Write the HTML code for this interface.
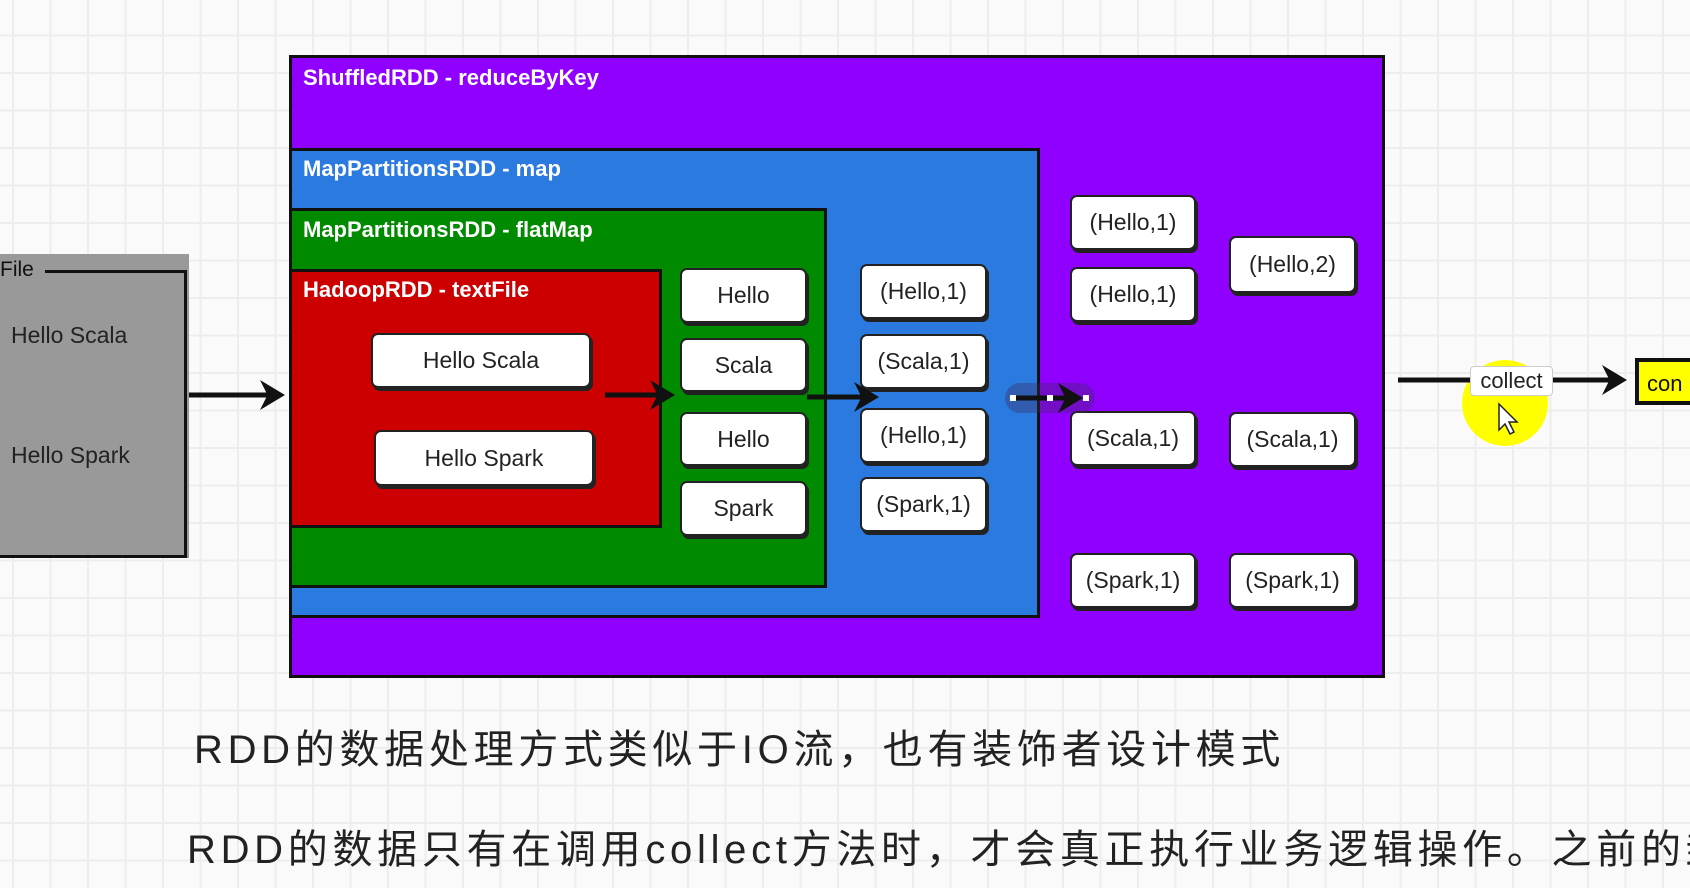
<!DOCTYPE html>
<html><head><meta charset="utf-8"><style>
body{margin:0;width:1690px;height:888px;overflow:hidden;background:#fafafa;
background-image:linear-gradient(#ededed 2px,transparent 2px),linear-gradient(90deg,#ededed 2px,transparent 2px);
background-size:37.5px 37.5px;background-position:12px -3px;font-family:"Liberation Sans",sans-serif;position:relative}
.a{position:absolute;box-sizing:border-box}
.c{border:3px solid #111}
.t{color:#fff;font-weight:bold;font-size:22px;position:absolute;white-space:nowrap}
.n{position:absolute;box-sizing:border-box;background:#fff;border:2px solid #222;border-radius:7px;box-shadow:2px 3px 0 #222;display:flex;align-items:center;justify-content:center;font-size:23px;color:#222}
.cn{font-family:"Liberation Sans","Noto Sans CJK SC",sans-serif;font-size:40px;letter-spacing:4.7px;color:#222;position:absolute;white-space:nowrap}
</style></head><body>
<!-- file -->
<div class="a" style="left:0;top:254px;width:189px;height:304px;background:#999"></div>
<div class="a" style="left:-4px;top:270px;width:191px;height:288px;border:3px solid #111;border-left:none"></div>
<div class="a" style="left:0;top:260px;width:45px;height:20px;background:#999;font-size:21px;line-height:20px;color:#111">File</div>
<div class="a" style="left:11px;top:322px;font-size:23px;color:#222">Hello Scala</div>
<div class="a" style="left:11px;top:442px;font-size:23px;color:#222">Hello Spark</div>
<!-- boxes -->
<div class="a c" style="left:289px;top:55px;width:1096px;height:623px;background:#9000ff"></div>
<div class="t" style="left:303px;top:65px">ShuffledRDD - reduceByKey</div>
<div class="a c" style="left:289px;top:148px;width:751px;height:470px;background:#2b7ae0"></div>
<div class="t" style="left:303px;top:156px">MapPartitionsRDD - map</div>
<div class="a c" style="left:289px;top:208px;width:538px;height:380px;background:#008a00"></div>
<div class="t" style="left:303px;top:217px">MapPartitionsRDD - flatMap</div>
<div class="a c" style="left:289px;top:269px;width:373px;height:259px;background:#cc0000"></div>
<div class="t" style="left:303px;top:277px">HadoopRDD - textFile</div>
<div class="n" style="left:371px;top:333px;width:220px;height:55px">Hello Scala</div>
<div class="n" style="left:374px;top:430px;width:220px;height:56px">Hello Spark</div>
<div class="n" style="left:680px;top:268px;width:127px;height:55px">Hello</div>
<div class="n" style="left:680px;top:338px;width:127px;height:54px">Scala</div>
<div class="n" style="left:680px;top:412px;width:127px;height:54px">Hello</div>
<div class="n" style="left:680px;top:481px;width:127px;height:55px">Spark</div>
<div class="n" style="left:860px;top:264px;width:127px;height:55px">(Hello,1)</div>
<div class="n" style="left:860px;top:334px;width:127px;height:55px">(Scala,1)</div>
<div class="n" style="left:860px;top:408px;width:127px;height:55px">(Hello,1)</div>
<div class="n" style="left:860px;top:477px;width:127px;height:55px">(Spark,1)</div>
<div class="n" style="left:1070px;top:195px;width:126px;height:55px">(Hello,1)</div>
<div class="n" style="left:1070px;top:267px;width:126px;height:55px">(Hello,1)</div>
<div class="n" style="left:1070px;top:411px;width:126px;height:55px">(Scala,1)</div>
<div class="n" style="left:1070px;top:553px;width:126px;height:55px">(Spark,1)</div>
<div class="n" style="left:1229px;top:236px;width:127px;height:57px">(Hello,2)</div>
<div class="n" style="left:1229px;top:412px;width:127px;height:55px">(Scala,1)</div>
<div class="n" style="left:1229px;top:553px;width:127px;height:55px">(Spark,1)</div>
<div class="a" style="left:1005px;top:383px;width:90px;height:30px;border-radius:15px;background:rgba(60,40,90,.35)"></div>
<div class="a" style="left:1462px;top:360px;width:86px;height:86px;border-radius:50%;background:#ffff00"></div>
<div class="a" style="left:1635px;top:358px;width:60px;height:47px;background:#ffff00;border:4px solid #111;font-size:22px;padding:9px 0 0 8px;color:#111">con</div>
<svg class="a" style="left:0;top:0" width="1690" height="888">
<defs><marker id="m" markerWidth="6" markerHeight="6" refX="4" refY="3" orient="auto" markerUnits="strokeWidth"><path d="M0,0 L5,3 L0,6 L1.5,3z" fill="#111"/></marker></defs>
<g stroke="#111" stroke-width="5" fill="none">
<line x1="189" y1="395" x2="280" y2="395" marker-end="url(#m)"/>
<line x1="605" y1="395" x2="670" y2="395" marker-end="url(#m)"/>
<line x1="807" y1="397" x2="874" y2="397" marker-end="url(#m)"/>
<line x1="1012" y1="398" x2="1078" y2="398" marker-end="url(#m)"/>
<line x1="1398" y1="380" x2="1622" y2="380" marker-end="url(#m)"/>
</g>
<rect x="1010" y="395" width="6" height="6" fill="#fff"/><rect x="1047" y="395" width="6" height="6" fill="#fff"/><rect x="1083" y="395" width="6" height="6" fill="#fff"/>
<path d="M1499,404 l0,26 l6,-6 l5,10 l4,-2 l-5,-10 l8,0z" fill="#fff" stroke="#222" stroke-width="1.5"/>
</svg>
<div class="a" style="left:1470px;top:366px;width:83px;height:30px;background:#fff;border:1px solid #ccc;border-radius:4px;font-size:22px;color:#222;text-align:center;line-height:28px">collect</div>
<div class="cn" style="left:194px;top:717px">RDD的数据处理方式类似于IO流，也有装饰者设计模式</div>
<div class="cn" style="left:187px;top:817px">RDD的数据只有在调用collect方法时，才会真正执行业务逻辑操作。之前的封</div>
</body></html>
